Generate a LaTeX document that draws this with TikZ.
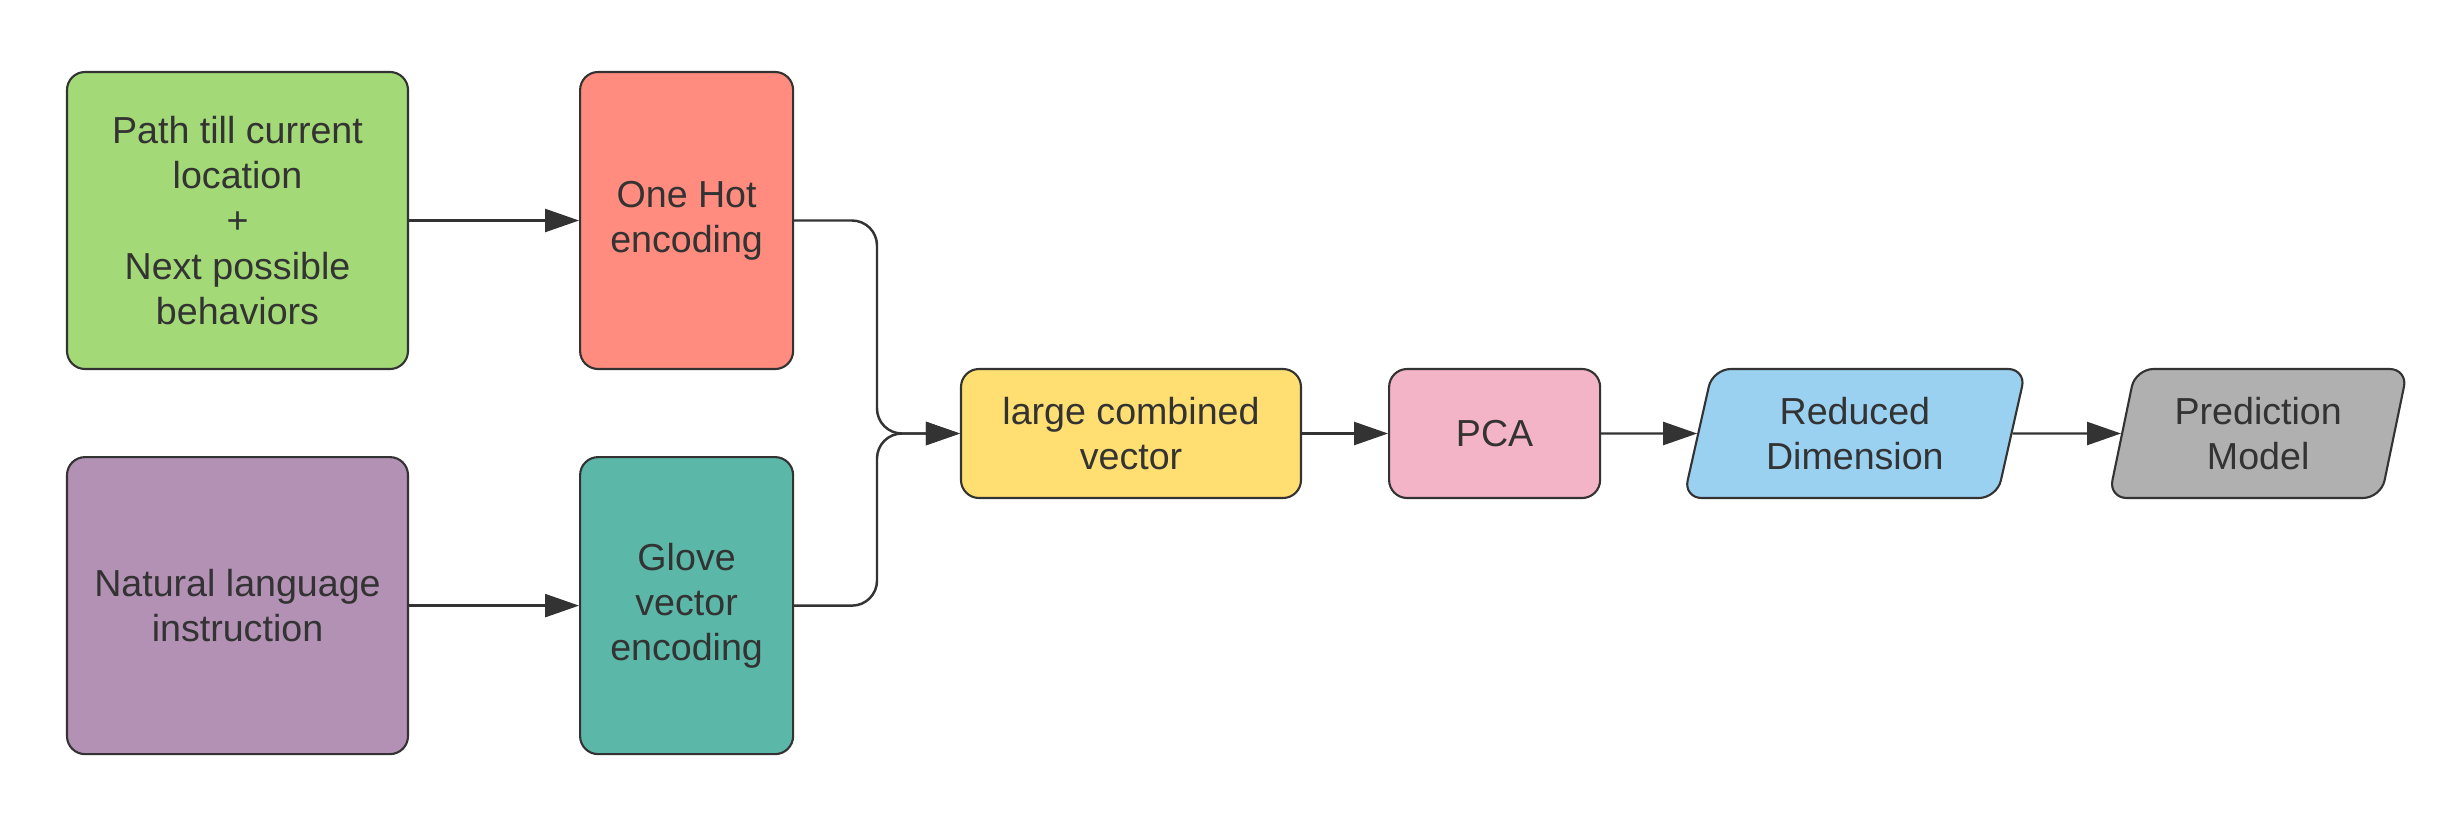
\documentclass[tikz,border=0pt]{standalone}
\usepackage{fontspec}
\setmainfont{Liberation Sans}
\usetikzlibrary{arrows.meta,positioning,shapes.geometric}

\definecolor{linegray}{HTML}{333333}
\definecolor{pathgreen}{HTML}{A3D977}
\definecolor{langpurple}{HTML}{B391B5}
\definecolor{hotred}{HTML}{FF8C7E}
\definecolor{glovegreen}{HTML}{5BB8A8}
\definecolor{vecyellow}{HTML}{FFDF71}
\definecolor{pcapink}{HTML}{F4B4C8}
\definecolor{dimblue}{HTML}{9AD1F1}
\definecolor{modelgray}{HTML}{B0B0B0}

\begin{document}
\begin{tikzpicture}[
  box/.style={draw=linegray,line width=0.6pt,rounded corners=1.8mm,align=center,
    text=linegray,font=\fontsize{10.7}{12.9}\selectfont,inner sep=0pt},
  tall/.style={box,minimum height=2.97cm},
  flat/.style={box,minimum height=1.29cm},
  slanted/.style={flat,trapezium,trapezium left angle=76,trapezium right angle=104,
    trapezium stretches=true},
  flow/.style={-{Triangle[length=3.4mm,width=2.3mm]},draw=linegray,line width=0.7pt}
]
  \useasboundingbox (0,0) rectangle (24.41,8.27);

  % inputs
  \node[tall,fill=pathgreen,minimum width=3.41cm] (path) at (2.375,6.065)
    {Path till current\\location\\+\\Next possible\\behaviors};
  \node[tall,fill=langpurple,minimum width=3.41cm,below=0.86cm of path] (lang)
    {Natural language\\instruction};

  % encodings
  \node[tall,fill=hotred,minimum width=2.13cm,right=1.7cm of path] (onehot) {One Hot\\encoding};
  \node[tall,fill=glovegreen,minimum width=2.13cm,right=1.7cm of lang] (glove) {Glove\\vector\\encoding};

  % pipeline
  \node[flat,fill=vecyellow,minimum width=3.40cm] (combined) at (11.31,3.935) {large combined\\vector};
  \node[flat,fill=pcapink,minimum width=2.11cm,right=0.86cm of combined] (pca) {PCA};
  \node[slanted,fill=dimblue,minimum width=3.43cm,right=0.96cm of pca] (reduced) {Reduced\\Dimension};
  \node[slanted,fill=modelgray,minimum width=3.0cm,right=1.085cm of reduced] (model) {Prediction\\Model};

  \coordinate (bus) at (8.77,3.935);

  \draw[flow] (path) -- (onehot);
  \draw[flow] (lang) -- (glove);
  \draw[flow,rounded corners=2.5mm] (onehot.east) -- (onehot.east -| bus) -- (bus) -- (combined.west);
  \draw[flow,rounded corners=2.5mm] (glove.east) -- (glove.east -| bus) -- (bus) -- (combined.west);
  \draw[flow] (combined) -- (pca);
  \draw[flow] (pca) -- (reduced);
  \draw[flow] (reduced) -- (model);
\end{tikzpicture}
\end{document}
